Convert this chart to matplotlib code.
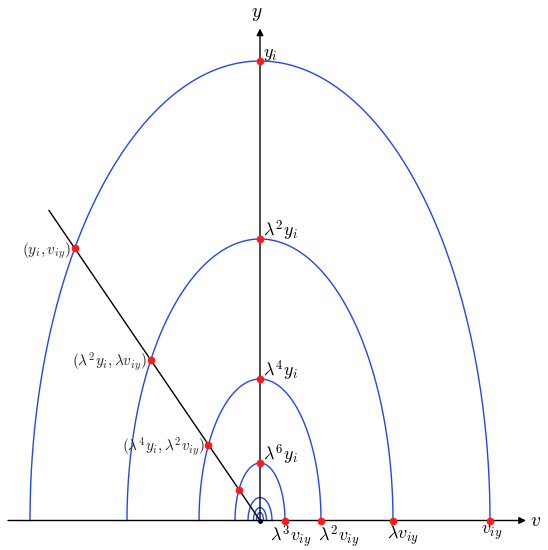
import numpy as np
import matplotlib
matplotlib.use('Agg')
import matplotlib.pyplot as plt

plt.rcParams['mathtext.fontset'] = 'cm'

# Semi-ellipse heights (y) and half-widths (v) of each nested curve
heights = [459.5, 281.5, 141.5, 57.5, 23.0, 13.0, 8.0]
half_widths = [230.0, 133.0, 61.0, 25.0, 12.0, 6.5, 3.5]

top_labels = [r'$y_i$', r'$\lambda^2 y_i$', r'$\lambda^4 y_i$', r'$\lambda^6 y_i$']
right_labels = [r'$v_{iy}$', r'$\lambda v_{iy}$', r'$\lambda^2 v_{iy}$', r'$\lambda^3 v_{iy}$']
pair_labels = [r'$(y_i, v_{iy})$', r'$(\lambda^2 y_i, \lambda v_{iy})$',
               r'$(\lambda^4 y_i, \lambda^2 v_{iy})$', '']

# end point of the straight line through the origin
line_end = (-211.0, 310.0)

BLUE = '#1f45ff'
RED = '#ff1a1a'
PX = 0.72  # points per pixel at dpi 100

fig = plt.figure(figsize=(5.48, 5.5), dpi=100)
ax = fig.add_axes([0, 0, 1, 1])
ax.set_xlim(-260, 288)
ax.set_ylim(-29.5, 520.5)
ax.axis('off')

theta = np.linspace(0, np.pi, 600)
for a, b in zip(half_widths, heights):
    ax.plot(a * np.cos(theta), b * np.sin(theta), color=BLUE, lw=1.0, zorder=2)

# axes with arrows
ax.annotate('', xy=(266, 0), xytext=(-252, 0),
            arrowprops=dict(arrowstyle='-|>', lw=1.0, color='black',
                            mutation_scale=10, shrinkA=0, shrinkB=0), zorder=3)
ax.annotate('', xy=(0, 492), xytext=(0, 0),
            arrowprops=dict(arrowstyle='-|>', lw=1.0, color='black',
                            mutation_scale=10, shrinkA=0, shrinkB=0), zorder=3)
ax.text(-3, 507, r'$y$', fontsize=14, ha='center', va='center')
ax.text(276, 0, r'$v$', fontsize=14, ha='center', va='center')

# straight line from origin
ax.plot([0, line_end[0]], [0, line_end[1]], color='black', lw=1.0, zorder=3)
ax.plot([0], [0], 'o', color='black', ms=2.5, zorder=4)

# dots at tops and right ends
top_dy = [-2, -4, -4, -4]
for i, lab in enumerate(top_labels):
    ax.plot([0], [heights[i]], 'o', color=RED, ms=4.5, zorder=5)
    ax.annotate(lab, (0, heights[i]), xytext=(3 * PX, top_dy[i] * PX),
                textcoords='offset points', ha='left', va='bottom', fontsize=13)

right_dx = [2, 10, 18, 6]
for i, lab in enumerate(right_labels):
    ax.plot([half_widths[i]], [0], 'o', color=RED, ms=4.5, zorder=5)
    ax.annotate(lab, (half_widths[i], 0), xytext=(right_dx[i] * PX, -3 * PX),
                textcoords='offset points', ha='center', va='top', fontsize=13)

# intersections of the line with the first curves
for i, lab in enumerate(pair_labels):
    a, b = half_widths[i], heights[i]
    t = 1.0 / np.sqrt((line_end[0] / a) ** 2 + (line_end[1] / b) ** 2)
    px, py = t * line_end[0], t * line_end[1]
    ax.plot([px], [py], 'o', color=RED, ms=4.5, zorder=5)
    if lab:
        ax.annotate(lab, (px, py), xytext=(-4 * PX, -2 * PX),
                    textcoords='offset points', ha='right', va='center',
                    fontsize=11, color='#222222')

fig.savefig('out.png', dpi=100)
